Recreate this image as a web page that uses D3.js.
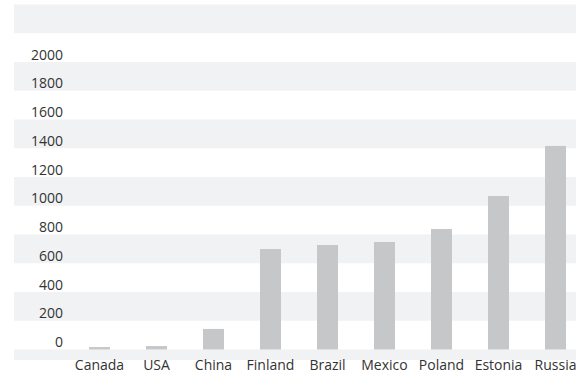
<!DOCTYPE html>
<meta charset="utf-8">
<style>
body { margin: 0; background: #fff; overflow: hidden; }
text { font-family: "Open Sans", sans-serif; font-size: 14px; fill: #333; }
</style>
<body>
<script src="https://d3js.org/d3.v7.min.js"></script>
<script>
var countries = ["Canada", "USA", "China", "Finland", "Brazil", "Mexico", "Poland", "Estonia", "Russia"];
var values = [17, 24, 143, 699, 727, 748, 838, 1068, 1416];
var yTicks = [0, 200, 400, 600, 800, 1000, 1200, 1400, 1600, 1800, 2000];
var bandStarts = [-200, 200, 600, 1000, 1400, 1800, 2200];

var width = 576, height = 372;

var svg = d3.select("body").append("svg")
    .attr("width", width)
    .attr("height", height)
    .style("display", "block");

var x = d3.scaleBand()
    .domain(countries)
    .range([71, 584])
    .paddingInner(0.632)
    .paddingOuter(0.316);

var y = d3.scaleLinear()
    .domain([0, 2000])
    .range([349.5, 62]);

var plotTop = 4, plotBottom = 360, plotLeft = 14;

// alternating background bands
svg.selectAll(".band")
    .data(bandStarts)
  .enter().append("rect")
    .attr("class", "band")
    .attr("x", plotLeft)
    .attr("width", width - plotLeft)
    .attr("y", function(d) { return Math.max(plotTop, y(d + 200)); })
    .attr("height", function(d) {
      var top = Math.max(plotTop, y(d + 200)), bot = Math.min(plotBottom, y(d));
      return bot - top;
    })
    .style("fill", "#f1f2f4");

svg.selectAll(".bar")
    .data(values)
  .enter().append("rect")
    .attr("class", "bar")
    .attr("x", function(d, i) { return x(countries[i]); })
    .attr("width", x.bandwidth())
    .attr("y", function(d) { return y(d); })
    .attr("height", function(d) { return y(0) - y(d); })
    .style("fill", "#c6c7c9");

var yAxis = d3.axisLeft(y).tickValues(yTicks).tickFormat(d3.format("d")).tickSize(0).tickPadding(0);
svg.append("g")
    .attr("transform", "translate(63,0)")
    .call(yAxis)
    .call(function(g) { g.select(".domain").remove(); })
    .selectAll("text")
    .attr("dy", "-0.2em")
    .style("font-size", "14px")
    .style("font-family", "'Open Sans', sans-serif")
    .style("fill", "#333");

var xAxis = d3.axisBottom(x).tickSize(0).tickPadding(0);
svg.append("g")
    .attr("transform", "translate(0,359)")
    .call(xAxis)
    .call(function(g) { g.select(".domain").remove(); })
    .selectAll("text")
    .attr("dy", "0.8em")
    .style("font-size", "14px")
    .style("font-family", "'Open Sans', sans-serif")
    .style("fill", "#333");
</script>
